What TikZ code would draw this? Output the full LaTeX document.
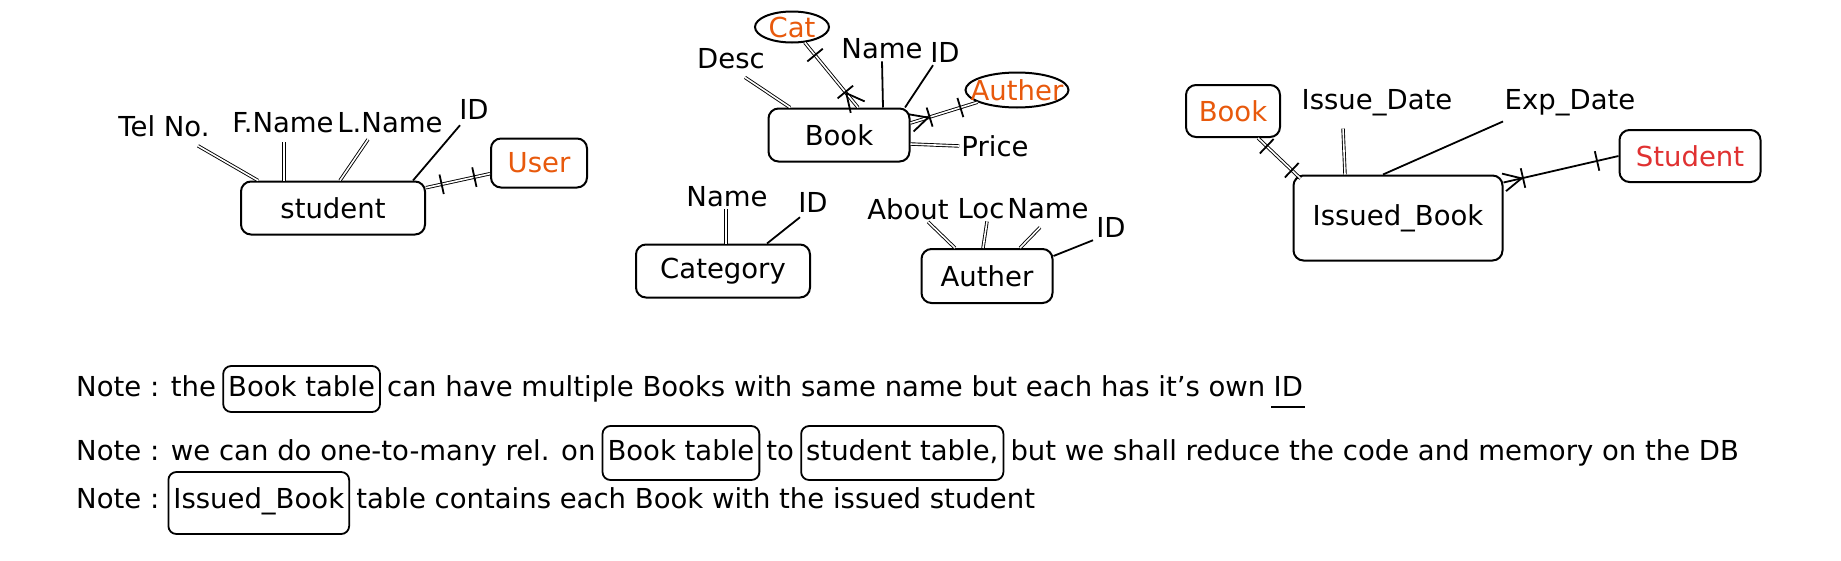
\documentclass[tikz,border=0pt]{standalone}
\usepackage{fontspec}
\setmainfont{DejaVu Sans}
\usepackage{xcolor}
\usepackage{tikz}
\usetikzlibrary{positioning, shapes.geometric, decorations.markings}
\definecolor{linkorange}{RGB}{232, 89, 12}
\definecolor{linkred}{RGB}{224, 49, 49}
\newcommand{\erfont}{\fontsize{27.5}{31}\selectfont}

\begin{document}
\begin{tikzpicture}[
    x=1pt, y=-1pt,
    entity/.style={draw, line width=2pt, rounded corners=10pt, inner sep=0pt, font=\erfont},
    refbox/.style={entity, text=linkorange},
    refoval/.style={ellipse, draw, line width=2pt, inner xsep=-14pt, inner ysep=0pt, text=linkorange, font=\erfont},
    attr/.style={inner sep=2pt, font=\erfont},
    link/.style={line width=1.8pt},
    twin/.style={double, line width=0.9pt, double distance=1.6pt},
    onebar/.style={postaction={decorate, decoration={markings,
        mark=at position #1 with {\draw[line width=1.8pt] (0pt,-10pt) -- (0pt,10pt);}}}},
    crowfoot/.style={postaction={decorate, decoration={markings,
        mark=at position 0.5pt with {\draw[line width=1.8pt] (0pt,-9pt) -- (18pt,0pt) -- (0pt,9pt);}}}},
    note/.style={inner sep=0pt, font=\erfont},
    notebox/.style={draw, line width=1.8pt, rounded corners=8pt, inner xsep=5pt, inner ysep=10pt,
        text height=20pt, text depth=6pt, font=\erfont}
]
    \useasboundingbox[fill=white] (0,0) rectangle (1841,560);

    % student
    \node[entity, minimum width=184pt, minimum height=53pt] (student) at (333,208) {student};
    \node[refbox, minimum width=96pt, minimum height=49pt] (user) at (539,163) {User};
    \node[attr] (telno) at (164,126) {Tel No.};
    \node[attr] (fname) at (283,123) {F.Name};
    \node[attr] (lname) at (390,123) {L.Name};
    \node[attr] (sid) at (474,109) {ID};

    \foreach \lbl/\sx/\sy/\ex in {telno/34/7/-75, fname/1/7/-49, lname/-22/4/7} {
        \draw[twin] ([shift={(\sx,\sy)}]\lbl.south) -- ([shift={(\ex,0)}]student.north);
    }
    \draw[link] ([shift={(-14,4)}]sid.south) -- ([shift={(80,0)}]student.north);
    \draw[twin, onebar=16pt, onebar=-16pt] (student) -- (user);

    % Book
    \node[entity, minimum width=141pt, minimum height=53pt] (book) at (839,135) {Book};
    \node[refoval, minimum width=74pt, minimum height=31pt] (cat) at (792,27) {Cat};
    \node[refoval, minimum width=103pt, minimum height=35pt] (autherref) at (1017,90) {Auther};
    \node[attr] (desc) at (731,59) {Desc};
    \node[attr] (bname) at (882,49) {Name};
    \node[attr] (bid) at (945,52) {ID};
    \node[attr] (price) at (995,146) {Price};

    \draw[twin] ([shift={(14,6)}]desc.south) -- ([shift={(-49,0)}]book.north);
    \draw[link] (bname.south) -- ([shift={(44,0)}]book.north);
    \draw[link] ([shift={(-12,1)}]bid.south) -- ([shift={(66,0)}]book.north);
    \draw[twin] ([shift={(0,9)}]book.east) -- (price.west);
    \draw[twin, crowfoot, onebar=20pt, onebar=-16pt] ([shift={(19,0)}]book.north) -- (cat);
    \draw[twin, crowfoot, onebar=20pt, onebar=-18pt] ([shift={(0,-12)}]book.east) -- (autherref);

    % Category
    \node[entity, minimum width=174pt, minimum height=53pt] (category) at (723,271) {Category};
    \node[attr] (catname) at (727,197) {Name};
    \node[attr] (catid) at (813,202) {ID};

    \draw[twin] ([shift={(-1,0)}]catname.south) -- ([shift={(3,0)}]category.north);
    \draw[link] ([shift={(-13,3)}]catid.south) -- ([shift={(44,0)}]category.north);

    % Auther
    \node[entity, minimum width=131pt, minimum height=54pt] (autherbox) at (987,276) {Auther};
    \node[attr] (about) at (908,209) {About};
    \node[attr] (loc) at (981,209) {Loc};
    \node[attr] (aname) at (1048,209) {Name};
    \node[attr] (aid) at (1111,227) {ID};

    \foreach \lbl/\sx/\sy/\ex in {about/20/0/-32, loc/6/0/-4, aname/-8/6/33} {
        \draw[twin] ([shift={(\sx,\sy)}]\lbl.south) -- ([shift={(\ex,0)}]autherbox.north);
    }
    \draw[link] ([shift={(-18,1)}]aid.south) -- ([shift={(0,8)}]autherbox.north east);

    % Issued_Book
    \node[entity, minimum width=209pt, minimum height=85pt] (issued) at (1398,218) {Issued\_Book};
    \node[refbox, minimum width=94pt, minimum height=52pt] (bookref) at (1233,111) {Book};
    \node[refbox, text=linkred, minimum width=141pt, minimum height=52pt] (studentref) at (1690,156) {Student};
    \node[attr] (issuedate) at (1377,103) {Issue\_Date};
    \node[attr] (expdate) at (1570,103) {Exp\_Date};

    \draw[twin] ([shift={(-34,10)}]issuedate.south) -- ([shift={(-53,0)}]issued.north);
    \draw[link] ([shift={(-67,3)}]expdate.south) -- ([shift={(-15,0)}]issued.north);
    \draw[twin, onebar=12pt, onebar=-12pt] ([shift={(25,0)}]bookref.south) -- ([shift={(8,4)}]issued.north west);
    \draw[link, crowfoot, onebar=20pt, onebar=-22pt] ([shift={(0,8)}]issued.north east) -- (studentref.west);

    % Notes
    \node[note, anchor=base west] (n1a) at (76,396) {Note : the};
    \node[notebox, base right=6pt of n1a] (n1b) {Book table};
    \node[note, base right=6pt of n1b] (n1c) {can have multiple Books with same name but each has it's own};
    \node[note, base right=8pt of n1c] (n1d) {ID};
    \draw[line width=2pt] ([shift={(-2,11)}]n1d.south west) -- ([shift={(2,11)}]n1d.south east);

    \node[note, anchor=base west] (n2a) at (76,460) {Note : we can do one-to-many rel. on};
    \node[notebox, inner ysep=14pt, base right=6pt of n2a] (n2b) {Book table};
    \node[note, base right=6pt of n2b] (n2c) {to};
    \node[notebox, inner ysep=14pt, base right=6pt of n2c] (n2d) {student table,};
    \node[note, base right=6pt of n2d] (n2e) {but we shall reduce the code and memory on the DB};

    \node[note, anchor=base west] (n3a) at (76,508) {Note :};
    \node[notebox, inner ysep=16pt, text depth=10pt, base right=8pt of n3a] (n3b) {Issued\_Book};
    \node[note, base right=6pt of n3b] (n3c) {table contains each Book with the issued student};
\end{tikzpicture}
\end{document}
